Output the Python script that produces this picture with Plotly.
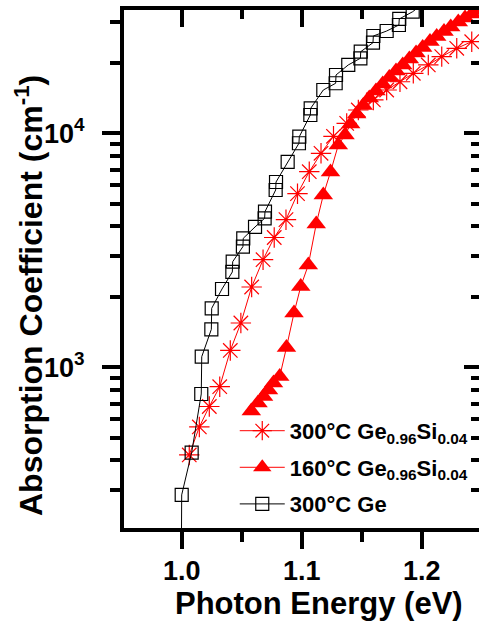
import plotly.graph_objects as go

# ---------------- data ----------------
ge_energy = [0.9995, 1.0000, 1.0083, 1.0163, 1.0167, 1.0247, 1.0250, 1.0336, 1.0422, 1.0425,
             1.0510, 1.0513, 1.0611, 1.0691, 1.0694, 1.0783, 1.0786, 1.0883, 1.0977, 1.0980,
             1.1072, 1.1075, 1.1180, 1.1283, 1.1286, 1.1388, 1.1489, 1.1492, 1.1594, 1.1597,
             1.1708, 1.1810, 1.1813, 1.1925, 1.2028]
ge_alpha = [100, 285, 432, 769, 1110, 1453, 1787, 2161, 2555, 2827,
            3277, 3558, 3978, 4333, 4624, 5724, 6193, 7541, 9065, 9672,
            11975, 12790, 15310, 16360, 17750, 19590, 20920, 22320, 24390, 26050,
            27360, 29030, 30800, 33090, 36400]

gesi300_energy = [1.0063, 1.0147, 1.0230, 1.0317, 1.0405, 1.0493, 1.0583, 1.0678, 1.0771, 1.0869,
                  1.0965, 1.1063, 1.1161, 1.1265, 1.1375, 1.1472, 1.1597, 1.1708, 1.1819, 1.1930,
                  1.2055, 1.2167, 1.2292, 1.2417]
gesi300_alpha = [422, 556, 680, 826, 1180, 1546, 2204, 2883, 3586, 4274,
                 5520, 6853, 8212, 9710, 11030, 12575, 13880, 15310, 16610, 18050,
                 19590, 21260, 23080, 24630]

gesi160_energy = [1.0580, 1.0636, 1.0682, 1.0723, 1.0765, 1.0817, 1.0873, 1.0936, 1.0992, 1.1055,
                  1.1121, 1.1180, 1.1240, 1.1305, 1.1361, 1.1408, 1.1458, 1.1513, 1.1563, 1.1619,
                  1.1675, 1.1730, 1.1786, 1.1842, 1.1897, 1.1953, 1.2008, 1.2069, 1.2125, 1.2186,
                  1.2242, 1.2305, 1.2361, 1.2417, 1.2472]
gesi160_alpha = [650, 704, 750, 800, 857, 913, 1215, 1707, 2215, 2736,
                 4097, 5449, 6833, 8913, 9833, 10960, 12090, 13150, 14160, 15160,
                 16240, 17320, 18460, 19590, 20780, 22040, 23260, 24680, 25920, 27230,
                 28470, 29900, 31100, 32350, 33480]

x_major = [1.0, 1.1, 1.2]
x_major_text = ["1.0", "1.1", "1.2"]
x_minor = [1.05, 1.15]
y_major = [1000, 10000]
y_major_text = ["10<sup>3</sup>", "10<sup>4</sup>"]
y_minor = [300, 400, 500, 600, 700, 800, 900, 2000, 3000, 4000, 5000, 6000, 7000, 8000, 9000,
           20000, 30000]

names = ["300°C Ge<sub>0.96</sub>Si<sub>0.04</sub>",
         "160°C Ge<sub>0.96</sub>Si<sub>0.04</sub>",
         "300°C Ge"]

# ---------------- figure ----------------
FONT = "Liberation Sans, Arial, sans-serif"
RED = "rgb(255,0,0)"

x_range = [0.95192, 1.24775]
y_range = [2.3132, 4.5269]

fig = go.Figure()

fig.add_trace(go.Scatter(
    x=gesi300_energy, y=gesi300_alpha, name=names[0], mode="lines+markers",
    line=dict(color=RED, width=1),
    marker=dict(symbol="asterisk-open", size=17, color=RED, line=dict(color=RED, width=1.2)),
    legendgroup="a"))
fig.add_trace(go.Scatter(
    x=gesi160_energy, y=gesi160_alpha, name=names[1], mode="lines+markers",
    line=dict(color=RED, width=1),
    marker=dict(symbol="triangle-up", size=17, color=RED, line=dict(width=0)),
    legendgroup="b"))
fig.add_trace(go.Scatter(
    x=ge_energy, y=ge_alpha, name=names[2], mode="lines+markers",
    line=dict(color="black", width=1),
    marker=dict(symbol="square-open", size=13, color="black", line=dict(color="black", width=1.2)),
    legendgroup="c"))
# empty helper trace so the mirrored axes exist
fig.add_trace(go.Scatter(x=[], y=[], xaxis="x2", yaxis="y2", showlegend=False, hoverinfo="skip"))

axis_common = dict(showgrid=False, zeroline=False, linecolor="black", linewidth=4,
                   tickcolor="black", tickwidth=4)

fig.update_layout(
    width=479, height=629,
    margin=dict(l=124, r=0, t=10, b=101),
    paper_bgcolor="white", plot_bgcolor="white",
    font=dict(family=FONT, size=27, color="black", weight="bold"),
    showlegend=True,
    xaxis=dict(range=x_range, showline=True, ticks="outside", ticklen=17,
               tickmode="array", tickvals=x_major, ticktext=x_major_text,
               tickfont=dict(size=27, family=FONT, weight="bold"),
               ticklabelstandoff=-1,
               minor=dict(tickmode="array", tickvals=x_minor, ticks="outside", ticklen=10,
                          tickwidth=4, tickcolor="black"),
               **axis_common),
    yaxis=dict(type="log", range=y_range, showline=True, ticks="outside", ticklen=18,
               tickmode="array", tickvals=y_major, ticktext=y_major_text,
               tickfont=dict(size=27, family=FONT, weight="bold"),
               ticklabelstandoff=12,
               minor=dict(tickmode="array", tickvals=y_minor, ticks="outside", ticklen=10,
                          tickwidth=4, tickcolor="black"),
               **axis_common),
    xaxis2=dict(range=x_range, overlaying="x", side="top", anchor="y2", showline=True,
                ticks="inside", ticklen=17, showticklabels=False,
                tickmode="array", tickvals=x_major,
                minor=dict(tickmode="array", tickvals=x_minor, ticks="inside", ticklen=9,
                           tickwidth=4, tickcolor="black"),
                **axis_common),
    yaxis2=dict(type="log", range=y_range, overlaying="y", side="right", anchor="x2",
                showline=False, ticks="inside", ticklen=15, showticklabels=False,
                tickmode="array", tickvals=y_major,
                minor=dict(tickmode="array", tickvals=y_minor, ticks="inside", ticklen=8,
                           tickwidth=4, tickcolor="black"),
                showgrid=False, zeroline=False, tickcolor="black", tickwidth=4),
    legend=dict(x=0.312, y=0.228, xanchor="left", yanchor="top",
                bgcolor="rgba(0,0,0,0)", borderwidth=0,
                font=dict(size=22, family=FONT, weight="bold"),
                tracegroupgap=5, itemwidth=45),
    annotations=[
        dict(text="Photon Energy (eV)", xref="paper", yref="paper",
             x=(319 - 124) / 355, y=(528 - 603) / 518, xanchor="center", yanchor="middle",
             showarrow=False, font=dict(size=31, family=FONT, weight="bold")),
        dict(text="Absorption Coefficient (cm<sup>-1</sup>)", xref="paper", yref="paper",
             x=(29 - 124) / 355, y=(528 - 296) / 518, xanchor="center", yanchor="middle",
             textangle=-90, showarrow=False, font=dict(size=32, family=FONT, weight="bold")),
    ],
)

fig.write_html("out.html")
